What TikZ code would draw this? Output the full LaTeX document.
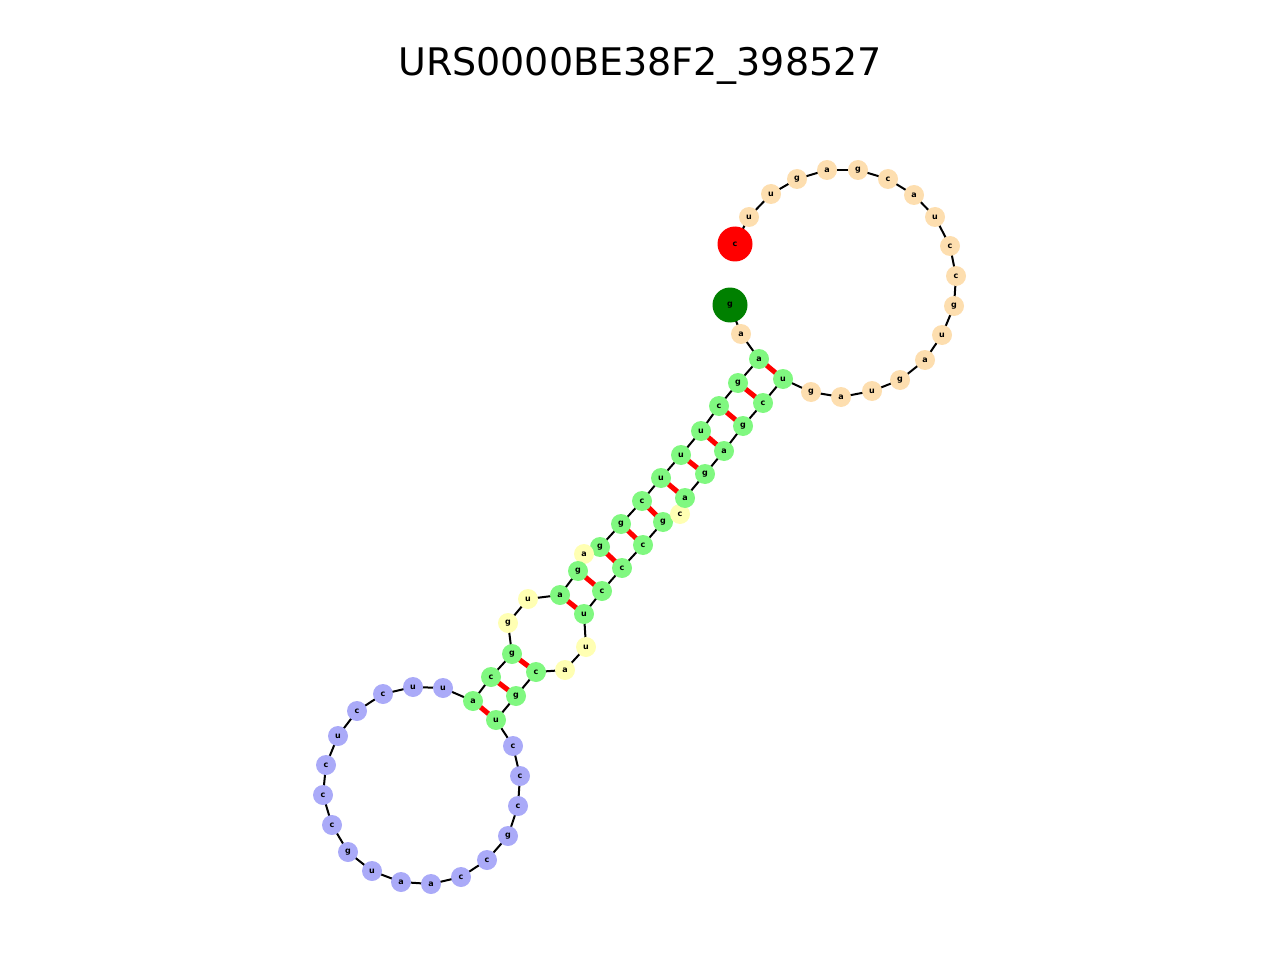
\documentclass[tikz,border=0pt]{standalone}
\usepackage{fontspec}
\setmainfont{DejaVu Sans}
\definecolor{cg}{HTML}{80F880}
\definecolor{cp}{HTML}{FDDEAF}
\definecolor{cy}{HTML}{FFFFB3}
\definecolor{cb}{HTML}{AAAAF8}
\definecolor{dg}{HTML}{008000}
\begin{document}
\begin{tikzpicture}[x=1pt,y=-1pt,
  nt/.style={circle,inner sep=0pt,minimum size=20pt,font=\fontsize{8}{8}\selectfont\bfseries},
  big/.style={circle,inner sep=0pt,minimum size=35pt,font=\fontsize{8}{8}\selectfont\bfseries},
  bb/.style={line width=2pt,black},
  bp/.style={line width=5pt,red}]
\path[use as bounding box] (0,0) rectangle (1280,960);
\node[font=\fontsize{38}{38}\selectfont] (title) at (640,66) {URS0000BE38F2\_398527};
\foreach \i/\x/\y/\l/\c [count=\k] in {
1/730/305/g/dg, 2/741/334/a/cp, 3/759/359/a/cg, 4/738/383/g/cg, 5/719/406/c/cg,
6/701/431/u/cg, 7/681/455/u/cg, 8/661/478/u/cg, 9/642/501/c/cg, 10/621/524/g/cg,
11/600/547/g/cg, 12/584/554/a/cy, 13/578/571/g/cg, 14/560/595/a/cg, 15/528/599/u/cy,
16/508/623/g/cy, 17/512/654/g/cg, 18/491/677/c/cg, 19/473/701/a/cg, 20/443/688/u/cb,
21/413/687/u/cb, 22/383/694/c/cb, 23/357/711/c/cb, 24/338/736/u/cb, 25/326/765/c/cb,
26/323/795/c/cb, 27/332/825/c/cb, 28/348/852/g/cb, 29/372/871/u/cb, 30/401/882/a/cb,
31/431/884/a/cb, 32/461/877/c/cb, 33/487/860/c/cb, 34/508/836/g/cb, 35/518/806/c/cb,
36/520/776/c/cb, 37/513/746/c/cb, 38/496/720/u/cg, 39/516/696/g/cg, 40/536/672/c/cg,
41/565/670/a/cy, 42/586/647/u/cy, 43/584/614/u/cg, 44/602/591/c/cg, 45/622/568/c/cg,
46/643/545/c/cg, 47/663/522/g/cg, 48/680/514/c/cy, 49/685/498/a/cg, 50/705/474/g/cg,
51/724/451/a/cg, 52/743/426/g/cg, 53/763/403/c/cg, 54/783/379/u/cg, 55/811/392/g/cp,
56/841/397/a/cp, 57/872/391/u/cp, 58/900/380/g/cp, 59/925/360/a/cp, 60/942/335/u/cp,
61/954/306/g/cp, 62/956/276/c/cp, 63/950/246/c/cp, 64/935/217/u/cp, 65/914/195/a/cp,
66/888/179/c/cp, 67/858/170/g/cp, 68/827/170/a/cp, 69/797/179/g/cp, 70/771/194/u/cp,
71/749/217/u/cp, 72/735/244/c/red}
  \coordinate (p\i) at (\x,\y);
% backbone
\foreach \i [evaluate=\i as \j using int(\i+1)] in {2,...,70}
  \draw[bb] (p\i) -- (p\j);
\draw[bb] (p1) -- (p2);
\draw[bb] (p71) -- (p72);
% pairs
\foreach \a/\b in {3/54,4/53,5/52,6/51,7/50,8/49,9/47,10/46,11/45,13/44,14/43,17/40,18/39,19/38}
  \draw[bp] (p\a) -- (p\b);
\foreach \i/\x/\y/\l/\c in {
2/741/334/a/cp, 3/759/359/a/cg, 4/738/383/g/cg, 5/719/406/c/cg,
6/701/431/u/cg, 7/681/455/u/cg, 8/661/478/u/cg, 9/642/501/c/cg, 10/621/524/g/cg,
11/600/547/g/cg, 12/584/554/a/cy, 13/578/571/g/cg, 14/560/595/a/cg, 15/528/599/u/cy,
16/508/623/g/cy, 17/512/654/g/cg, 18/491/677/c/cg, 19/473/701/a/cg, 20/443/688/u/cb,
21/413/687/u/cb, 22/383/694/c/cb, 23/357/711/c/cb, 24/338/736/u/cb, 25/326/765/c/cb,
26/323/795/c/cb, 27/332/825/c/cb, 28/348/852/g/cb, 29/372/871/u/cb, 30/401/882/a/cb,
31/431/884/a/cb, 32/461/877/c/cb, 33/487/860/c/cb, 34/508/836/g/cb, 35/518/806/c/cb,
36/520/776/c/cb, 37/513/746/c/cb, 38/496/720/u/cg, 39/516/696/g/cg, 40/536/672/c/cg,
41/565/670/a/cy, 42/586/647/u/cy, 43/584/614/u/cg, 44/602/591/c/cg, 45/622/568/c/cg,
46/643/545/c/cg, 47/663/522/g/cg, 48/680/514/c/cy, 49/685/498/a/cg, 50/705/474/g/cg,
51/724/451/a/cg, 52/743/426/g/cg, 53/763/403/c/cg, 54/783/379/u/cg, 55/811/392/g/cp,
56/841/397/a/cp, 57/872/391/u/cp, 58/900/380/g/cp, 59/925/360/a/cp, 60/942/335/u/cp,
61/954/306/g/cp, 62/956/276/c/cp, 63/950/246/c/cp, 64/935/217/u/cp, 65/914/195/a/cp,
66/888/179/c/cp, 67/858/170/g/cp, 68/827/170/a/cp, 69/797/179/g/cp, 70/771/194/u/cp,
71/749/217/u/cp}
  \node[nt,fill=\c] (n\i) at (p\i) {\l};
\node[big,fill=dg] (n1) at (p1) {g};
\node[big,fill=red] (n72) at (p72) {c};
\end{tikzpicture}
\end{document}
